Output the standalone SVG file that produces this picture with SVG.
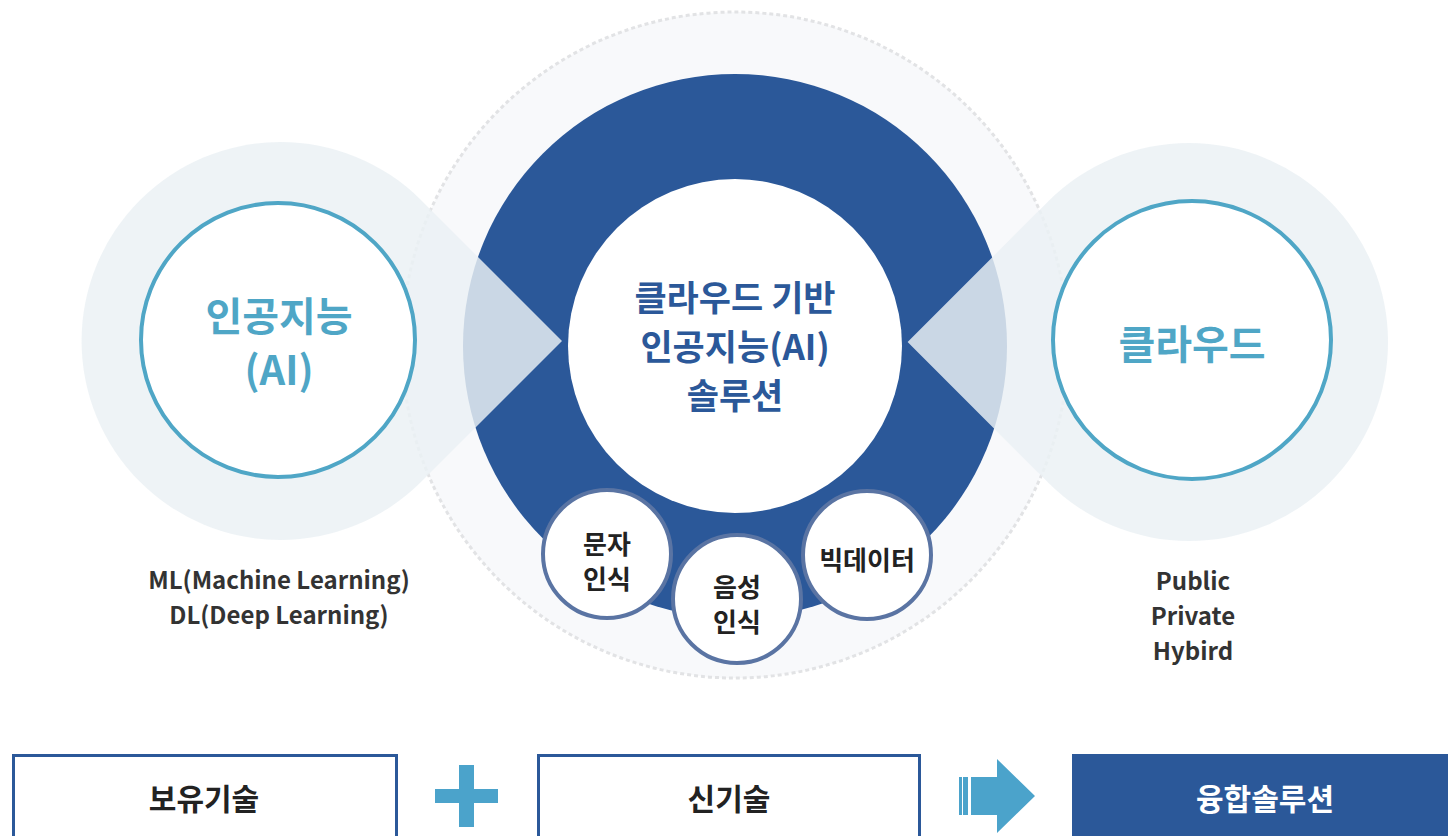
<svg xmlns="http://www.w3.org/2000/svg" width="1448" height="836" viewBox="0 0 1448 836">
<style>
text{font-family:"Noto Sans CJK KR","Noto Sans",sans-serif;font-weight:700;text-anchor:middle;dominant-baseline:central}
.teal{fill:#4fa6c6;font-size:40px}
.ctr{fill:#2b5899;font-size:35px}
.sm{fill:#222;font-size:26px}
.lbl{fill:#333;font-size:24px}
.bx{fill:#222;font-size:30px}
.pale{fill:#ebf0f4;opacity:0.83}
.tealc{fill:#fff;stroke:#4fa6c6;stroke-width:4}
.smc{fill:#fff;stroke:#5a74a3;stroke-width:4}
</style>
<rect width="1448" height="836" fill="#fff"/>
<g id="ring">
<circle cx="735" cy="345" r="333" fill="#f8f9fb" stroke="#e2e3e5" stroke-width="3" stroke-dasharray="4 3"/>
<circle cx="735" cy="346" r="272" fill="#2b5899"/>
</g>
<g id="connectors">
<path class="pale" d="M562,341 L420.7,199.7 A199,199 0 1 0 420.7,482.3 Z"/>
<path class="pale" d="M907.6,342 L1048.3,201.3 A199,199 0 1 1 1048.3,482.7 Z"/>
</g>
<g id="center">
<circle cx="735" cy="346" r="167" fill="#fff"/>
<text class="ctr" x="735" y="295">클라우드 기반</text>
<text class="ctr" x="735" y="344">인공지능(AI)</text>
<text class="ctr" x="735" y="393">솔루션</text>
</g>
<g id="ai">
<circle class="tealc" cx="278" cy="340" r="137"/>
<text class="teal" x="279" y="314">인공지능</text>
<text class="teal" x="279" y="368">(AI)</text>
</g>
<g id="cloud">
<circle class="tealc" cx="1192" cy="340" r="139"/>
<text class="teal" x="1192" y="342">클라우드</text>
</g>
<g id="ocr">
<circle class="smc" cx="607" cy="554" r="64"/>
<text class="sm" x="607" y="542">문자</text>
<text class="sm" x="607" y="577">인식</text>
</g>
<g id="voice">
<circle class="smc" cx="737" cy="599" r="64"/>
<text class="sm" x="737" y="585">음성</text>
<text class="sm" x="737" y="620">인식</text>
</g>
<g id="bigdata">
<circle class="smc" cx="867" cy="555" r="64"/>
<text class="sm" x="867" y="558">빅데이터</text>
</g>
<g id="ai-labels">
<text class="lbl" x="279" y="578">ML(Machine Learning)</text>
<text class="lbl" x="279" y="613">DL(Deep Learning)</text>
</g>
<g id="cloud-labels">
<text class="lbl" x="1193" y="579">Public</text>
<text class="lbl" x="1193" y="614">Private</text>
<text class="lbl" x="1193" y="649">Hybird</text>
</g>
<g id="box1">
<rect x="13.5" y="755.5" width="383" height="90" fill="#fff" stroke="#2b5899" stroke-width="3"/>
<text class="bx" x="204" y="797">보유기술</text>
</g>
<g id="plus">
<rect x="459" y="765" width="15" height="62" fill="#4ba3cb"/>
<rect x="435" y="789" width="63" height="14" fill="#4ba3cb"/>
</g>
<g id="box2">
<rect x="538.5" y="755.5" width="381" height="90" fill="#fff" stroke="#2b5899" stroke-width="3"/>
<text class="bx" x="729" y="797">신기술</text>
</g>
<g id="arrow" fill="#4ba3cb">
<rect x="959" y="777" width="3" height="38"/>
<rect x="963" y="777" width="5" height="38"/>
<path d="M971,777 H997 V759 L1035,796 L997,833 V815 H971 Z"/>
</g>
<g id="box3">
<rect x="1072" y="754" width="376" height="92" fill="#2b5899"/>
<text class="bx" x="1265" y="797" style="fill:#fff">융합솔루션</text>
</g>
</svg>
